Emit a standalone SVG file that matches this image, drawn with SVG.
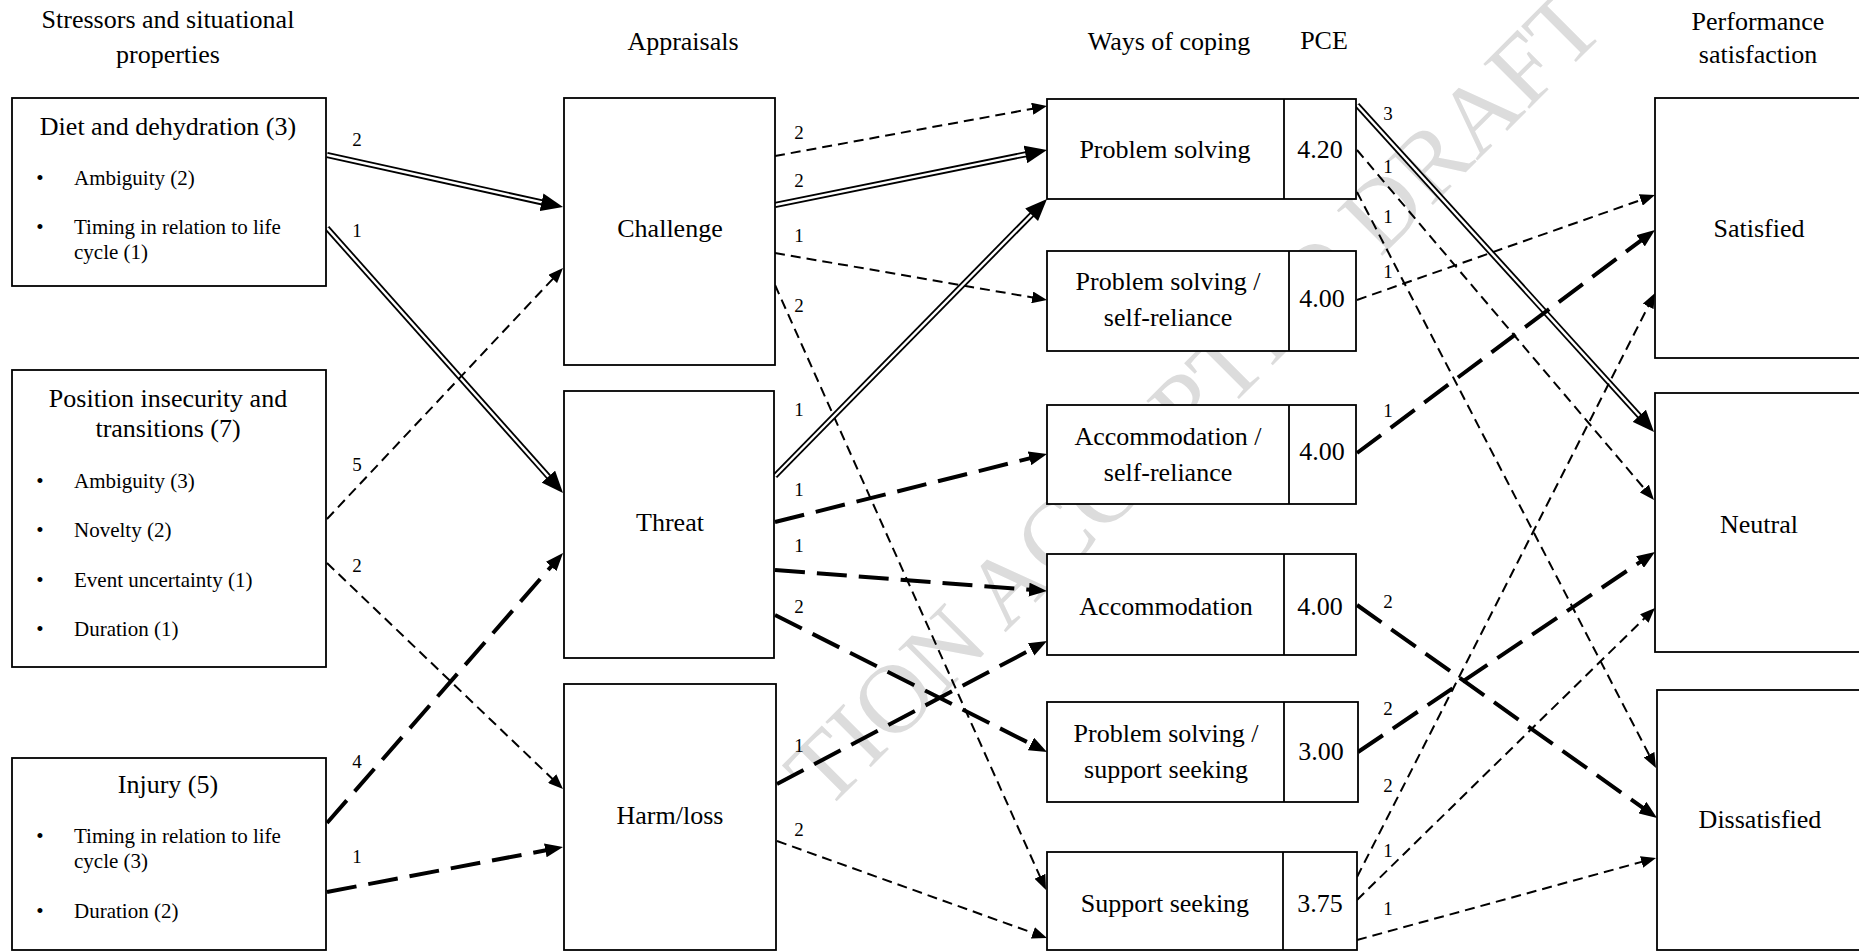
<svg xmlns="http://www.w3.org/2000/svg" width="1859" height="952" viewBox="0 0 1859 952">
<style>
text{font-family:"Liberation Serif","Times New Roman",serif;fill:#000}
.h{font-size:26px;text-anchor:middle}
.b{font-size:21px}
.bc{font-size:21px;text-anchor:middle}
.l{font-size:19px;text-anchor:middle}
.box{fill:#fff;stroke:#000;stroke-width:1.8}
.div{stroke:#000;stroke-width:1.8}
.wm{font-size:98px;fill:#dcdcdc}
.dbo{fill:none;stroke:#000;stroke-width:6}
.dbi{fill:none;stroke:#fff;stroke-width:2.4}
.thn{fill:none;stroke:#000;stroke-width:2;stroke-dasharray:10 6}
.thk{fill:none;stroke:#000;stroke-width:4;stroke-dasharray:30 12}
</style>
<defs>
<marker id="aD" markerUnits="userSpaceOnUse" markerWidth="24" markerHeight="18" refX="2" refY="9" orient="auto"><path d="M0,0 L22,9 L0,18 z" fill="#000"/></marker>
<marker id="aK" markerUnits="userSpaceOnUse" markerWidth="20" markerHeight="14" refX="2" refY="7" orient="auto"><path d="M0,0 L18,7 L0,14 z" fill="#000"/></marker>
<marker id="aN" markerUnits="userSpaceOnUse" markerWidth="16" markerHeight="12" refX="2" refY="6" orient="auto"><path d="M0,0 L15,6 L0,12 z" fill="#000"/></marker>
</defs>
<rect width="1859" height="952" fill="#fff"/>
<text class="wm" transform="translate(826,812) rotate(-45)">TION ACCEPTED DRAFT</text>

<g id="headers">
<text class="h" x="168" y="28">Stressors and situational</text>
<text class="h" x="168" y="63">properties</text>
<text class="h" x="683" y="50">Appraisals</text>
<text class="h" x="1169" y="50">Ways of coping</text>
<text class="h" x="1324" y="49">PCE</text>
<text class="h" x="1758" y="30">Performance</text>
<text class="h" x="1758" y="63">satisfaction</text>
</g>

<g id="connectors">
<line class="dbo" x1="327" y1="155" x2="543.5" y2="202.7"/><line class="dbi" x1="327" y1="155" x2="543.5" y2="202.7" marker-end="url(#aD)"/>
<line class="dbo" x1="327" y1="228" x2="549.7" y2="478.1"/><line class="dbi" x1="327" y1="228" x2="549.7" y2="478.1" marker-end="url(#aD)"/>
<line class="thn" x1="327" y1="519" x2="554.1" y2="277.5" marker-end="url(#aN)"/>
<line class="thn" x1="327" y1="563" x2="553.6" y2="780" marker-end="url(#aN)"/>
<line class="thk" x1="327" y1="823" x2="552.5" y2="565" marker-end="url(#aK)"/>
<line class="thk" x1="327" y1="892" x2="547.3" y2="850" marker-end="url(#aK)"/>

<line class="thn" x1="775" y1="156" x2="1034.2" y2="108.4" marker-end="url(#aN)"/>
<line class="dbo" x1="775" y1="205" x2="1027.4" y2="154"/><line class="dbi" x1="775" y1="205" x2="1027.4" y2="154" marker-end="url(#aD)"/>
<line class="thn" x1="775" y1="253" x2="1034.2" y2="297.8" marker-end="url(#aN)"/>
<line class="thn" x1="775" y1="285" x2="1040.7" y2="878.1" marker-end="url(#aN)"/>
<line class="dbo" x1="775" y1="476" x2="1033" y2="213.3"/><line class="dbi" x1="775" y1="476" x2="1033" y2="213.3" marker-end="url(#aD)"/>
<line class="thk" x1="775" y1="522" x2="1031.5" y2="457.9" marker-end="url(#aK)"/>
<line class="thk" x1="775" y1="570" x2="1031" y2="589.8" marker-end="url(#aK)"/>
<line class="thk" x1="775" y1="615" x2="1032.7" y2="744.8" marker-end="url(#aK)"/>
<line class="thk" x1="777" y1="784" x2="1032.9" y2="648.5" marker-end="url(#aK)"/>
<line class="thn" x1="777" y1="841" x2="1034.8" y2="933.6" marker-end="url(#aN)"/>

<line class="dbo" x1="1357" y1="105" x2="1640.6" y2="417.2"/><line class="dbi" x1="1357" y1="105" x2="1640.6" y2="417.2" marker-end="url(#aD)"/>
<line class="thn" x1="1357" y1="150" x2="1645.6" y2="490.1" marker-end="url(#aN)"/>
<line class="thn" x1="1357" y1="192" x2="1650" y2="756.5" marker-end="url(#aN)"/>
<line class="thn" x1="1357" y1="300" x2="1642.7" y2="199.3" marker-end="url(#aN)"/>
<line class="thk" x1="1357" y1="453" x2="1642.2" y2="239.6" marker-end="url(#aK)"/>
<line class="thk" x1="1357" y1="605" x2="1644" y2="808.7" marker-end="url(#aK)"/>
<line class="thk" x1="1358" y1="752" x2="1641.7" y2="560.9" marker-end="url(#aK)"/>
<line class="thn" x1="1357" y1="877" x2="1649.1" y2="304.6" marker-end="url(#aN)"/>
<line class="thn" x1="1357" y1="900" x2="1645.7" y2="617.1" marker-end="url(#aN)"/>
<line class="thn" x1="1357" y1="940" x2="1643.5" y2="861.4" marker-end="url(#aN)"/>

<text class="l" x="357" y="146">2</text>
<text class="l" x="357" y="237">1</text>
<text class="l" x="357" y="471">5</text>
<text class="l" x="357" y="572">2</text>
<text class="l" x="357" y="768">4</text>
<text class="l" x="357" y="863">1</text>
<text class="l" x="799" y="139">2</text>
<text class="l" x="799" y="187">2</text>
<text class="l" x="799" y="242">1</text>
<text class="l" x="799" y="312">2</text>
<text class="l" x="799" y="416">1</text>
<text class="l" x="799" y="496">1</text>
<text class="l" x="799" y="552">1</text>
<text class="l" x="799" y="613">2</text>
<text class="l" x="799" y="752">1</text>
<text class="l" x="799" y="836">2</text>
<text class="l" x="1388" y="120">3</text>
<text class="l" x="1388" y="173">1</text>
<text class="l" x="1388" y="223">1</text>
<text class="l" x="1388" y="278">1</text>
<text class="l" x="1388" y="417">1</text>
<text class="l" x="1388" y="608">2</text>
<text class="l" x="1388" y="715">2</text>
<text class="l" x="1388" y="792">2</text>
<text class="l" x="1388" y="857">1</text>
<text class="l" x="1388" y="915">1</text>
</g>

<g id="diet">
<rect class="box" x="12" y="98" width="314" height="188"/>
<text class="h" x="168" y="135">Diet and dehydration (3)</text>
<text class="bc" x="40" y="185">•</text><text class="b" x="74" y="185">Ambiguity (2)</text>
<text class="bc" x="40" y="234">•</text><text class="b" x="74" y="234">Timing in relation to life</text>
<text class="b" x="74" y="259">cycle (1)</text>
</g>
<g id="position">
<rect class="box" x="12" y="370" width="314" height="297"/>
<text class="h" x="168" y="407">Position insecurity and</text>
<text class="h" x="168" y="437">transitions (7)</text>
<text class="bc" x="40" y="488">•</text><text class="b" x="74" y="488">Ambiguity (3)</text>
<text class="bc" x="40" y="537">•</text><text class="b" x="74" y="537">Novelty (2)</text>
<text class="bc" x="40" y="587">•</text><text class="b" x="74" y="587">Event uncertainty (1)</text>
<text class="bc" x="40" y="636">•</text><text class="b" x="74" y="636">Duration (1)</text>
</g>
<g id="injury">
<rect class="box" x="12" y="758" width="314" height="192"/>
<text class="h" x="168" y="793">Injury (5)</text>
<text class="bc" x="40" y="843">•</text><text class="b" x="74" y="843">Timing in relation to life</text>
<text class="b" x="74" y="868">cycle (3)</text>
<text class="bc" x="40" y="918">•</text><text class="b" x="74" y="918">Duration (2)</text>
</g>

<g id="challenge">
<rect class="box" x="564" y="98" width="211" height="267"/>
<text class="h" x="670" y="237">Challenge</text>
</g>
<g id="threat">
<rect class="box" x="564" y="391" width="210" height="267"/>
<text class="h" x="670" y="531">Threat</text>
</g>
<g id="harmloss">
<rect class="box" x="564" y="684" width="212" height="266"/>
<text class="h" x="670" y="824">Harm/loss</text>
</g>

<g id="problem-solving">
<rect class="box" x="1047" y="99" width="309" height="100"/>
<line class="div" x1="1284" y1="99" x2="1284" y2="199"/>
<text class="h" x="1165" y="158">Problem solving</text>
<text class="h" x="1320" y="158">4.20</text>
</g>
<g id="ps-self-reliance">
<rect class="box" x="1047" y="251" width="309" height="100"/>
<line class="div" x1="1289" y1="251" x2="1289" y2="351"/>
<text class="h" x="1168" y="290">Problem solving /</text>
<text class="h" x="1168" y="326">self-reliance</text>
<text class="h" x="1322" y="307">4.00</text>
</g>
<g id="acc-self-reliance">
<rect class="box" x="1047" y="405" width="309" height="99"/>
<line class="div" x1="1289" y1="405" x2="1289" y2="504"/>
<text class="h" x="1168" y="445">Accommodation /</text>
<text class="h" x="1168" y="481">self-reliance</text>
<text class="h" x="1322" y="460">4.00</text>
</g>
<g id="accommodation">
<rect class="box" x="1047" y="554" width="309" height="101"/>
<line class="div" x1="1284" y1="554" x2="1284" y2="655"/>
<text class="h" x="1166" y="615">Accommodation</text>
<text class="h" x="1320" y="615">4.00</text>
</g>
<g id="ps-support-seeking">
<rect class="box" x="1047" y="702" width="311" height="100"/>
<line class="div" x1="1284" y1="702" x2="1284" y2="802"/>
<text class="h" x="1166" y="742">Problem solving /</text>
<text class="h" x="1166" y="778">support seeking</text>
<text class="h" x="1321" y="760">3.00</text>
</g>
<g id="support-seeking">
<rect class="box" x="1047" y="852" width="310" height="98"/>
<line class="div" x1="1283" y1="852" x2="1283" y2="950"/>
<text class="h" x="1165" y="912">Support seeking</text>
<text class="h" x="1320" y="912">3.75</text>
</g>

<g id="satisfied">
<rect class="box" x="1655" y="98" width="215" height="260"/>
<text class="h" x="1759" y="237">Satisfied</text>
</g>
<g id="neutral">
<rect class="box" x="1655" y="393" width="215" height="259"/>
<text class="h" x="1759" y="533">Neutral</text>
</g>
<g id="dissatisfied">
<rect class="box" x="1657" y="690" width="215" height="260"/>
<text class="h" x="1760" y="828">Dissatisfied</text>
</g>
</svg>
